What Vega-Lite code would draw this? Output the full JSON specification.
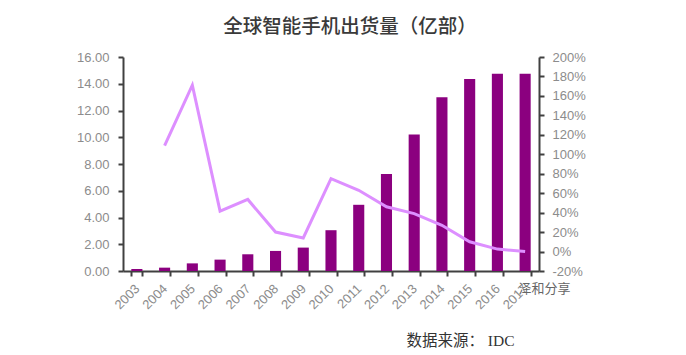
{
"$schema":"https://vega.github.io/schema/vega-lite/v6.json",
"width":416,"height":214,
"autosize":{"type":"none"},
"padding":{"left":123,"top":57,"right":147,"bottom":84},
"background":"white",
"title":{"text":"全球智能手机出货量（亿部）","font":"Noto Sans CJK SC","fontSize":19.5,"fontWeight":500,"color":"#3a3a3a","anchor":"middle","frame":"group","dx":19,"dy":0,"offset":14},
"data":{"values":[
{"year":"2003","shipments":0.15},
{"year":"2004","shipments":0.25,"growth":109},
{"year":"2005","shipments":0.57,"growth":171},
{"year":"2006","shipments":0.85,"growth":41.6},
{"year":"2007","shipments":1.25,"growth":53.6},
{"year":"2008","shipments":1.5,"growth":20},
{"year":"2009","shipments":1.75,"growth":14},
{"year":"2010","shipments":3.05,"growth":75},
{"year":"2011","shipments":4.95,"growth":63},
{"year":"2012","shipments":7.25,"growth":46},
{"year":"2013","shipments":10.2,"growth":39},
{"year":"2014","shipments":13.0,"growth":27},
{"year":"2015","shipments":14.35,"growth":10},
{"year":"2016","shipments":14.75,"growth":2.5},
{"year":"2017","shipments":14.75,"growth":0}
]},
"encoding":{"x":{"field":"year","type":"ordinal","scale":{"paddingInner":0.6,"paddingOuter":0.3},
"axis":{"title":"数据来源： IDC","titleFont":"Liberation Serif, Noto Sans CJK SC","titleFontSize":15.5,"titleFontWeight":"normal","titleColor":"#333333","titleX":337,"titleY":69,"titleAlign":"center","titleBaseline":"middle",
"labelAngle":-45,"labelFont":"Liberation Sans","labelFontSize":13,"labelColor":"#8c8c8c","labelOffset":-4,"tickBand":"extent","tickSize":5,"tickWidth":2,"tickColor":"#404040","domainColor":"#404040","domainWidth":2,"labelPadding":6,"grid":false}}},
"layer":[
{"mark":{"type":"bar","color":"#8b007f"},
"encoding":{"y":{"field":"shipments","type":"quantitative","scale":{"domain":[0,16]},
"axis":{"title":null,"values":[0,2,4,6,8,10,12,14,16],"format":".2f","labelFont":"Liberation Sans","labelFontSize":13,"labelColor":"#8c8c8c","tickSize":5,"tickWidth":2,"tickColor":"#404040","domainColor":"#404040","domainWidth":2,"labelPadding":9,"grid":false}}}},
{"mark":{"type":"line","color":"#dd8fff","strokeWidth":3,"interpolate":"linear"},
"encoding":{"y":{"field":"growth","type":"quantitative","scale":{"domain":[-20,200]},
"axis":{"orient":"right","title":"泽和分享","titleFont":"Noto Sans CJK SC","titleFontSize":13,"titleFontWeight":"normal","titleColor":"#666666","titleAngle":0,"titleX":5,"titleY":231,"titleAlign":"center","titleBaseline":"middle",
"values":[-20,0,20,40,60,80,100,120,140,160,180,200],"labelExpr":"datum.value+'%'","labelFont":"Liberation Sans","labelFontSize":13,"labelColor":"#8c8c8c","tickSize":5,"tickWidth":2,"tickColor":"#404040","domainColor":"#404040","domainWidth":2,"labelPadding":8,"grid":false}}}}
],
"resolve":{"scale":{"y":"independent"}},
"config":{"view":{"stroke":null}}
}
